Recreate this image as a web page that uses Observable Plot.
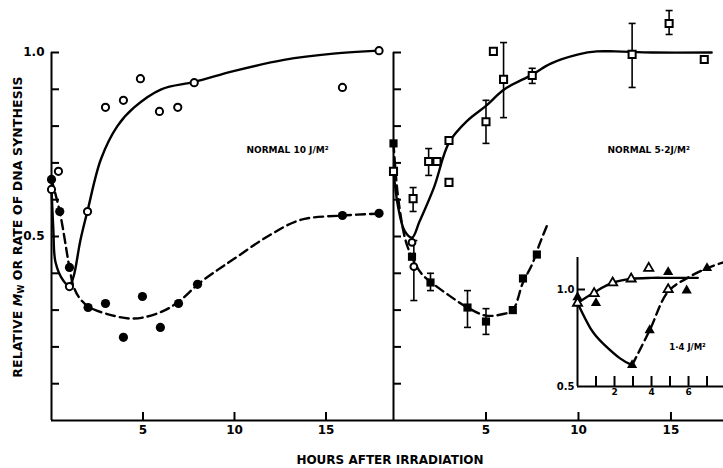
<!DOCTYPE html>
<html>
<head>
<meta charset="utf-8">
<script src="https://cdn.jsdelivr.net/npm/d3@7"></script>
<script src="https://cdn.jsdelivr.net/npm/@observablehq/plot@0.6"></script>
<style>
  html, body { margin: 0; padding: 0; background: #fff; }
  #fig { position: relative; width: 723px; height: 468px; background: #fff; overflow: hidden; font-family: 'DejaVu Sans', sans-serif; color: #000; }
  #fig svg { position: absolute; left: 0; top: 0; }
  .ytitle { position: absolute; left: 18px; top: 227px; transform: translate(-50%, -50%) rotate(-90deg); white-space: nowrap; font-weight: bold; font-size: 12.5px; letter-spacing: 0.1px; }
  .ytitle sub { font-size: 8px; vertical-align: -2px; }
  .xtitle { position: absolute; left: 390px; top: 460px; transform: translate(-50%, -50%); white-space: nowrap; font-weight: bold; font-size: 12px; }
</style>
</head>
<body>
<div id="fig">
  <div class="ytitle">RELATIVE <i>M</i><sub>W</sub> OR RATE OF DNA SYNTHESIS</div>
  <div class="xtitle">HOURS AFTER IRRADIATION</div>
</div>
<script>
// ---------- data (hours, relative value) ----------
// Left panel: NORMAL 10 J/m2
const leftOpen = [[0,0.628],[0.38,0.677],[0.98,0.364],[1.97,0.568],[2.95,0.851],[3.93,0.870],[4.86,0.929],[5.9,0.840],[6.9,0.851],[7.8,0.918],[15.9,0.905],[17.9,1.005]];
const leftFilled = [[0,0.655],[0.45,0.568],[0.98,0.416],[2.0,0.307],[2.95,0.318],[3.93,0.226],[4.97,0.337],[5.95,0.253],[6.94,0.318],[7.98,0.370],[15.9,0.557],[17.9,0.563]];
const leftSolidCurve = [[0,0.63],[0.1,0.52],[0.22,0.43],[0.65,0.38],[0.98,0.367],[1.2,0.39],[1.58,0.49],[1.97,0.57],[2.7,0.71],[3.6,0.80],[4.5,0.85],[6,0.90],[7.8,0.92],[10,0.95],[12.7,0.98],[15.4,0.997],[17.9,1.005]];
const leftDashedCurve = [[0,0.655],[0.45,0.568],[0.98,0.416],[1.2,0.365],[1.5,0.335],[2,0.31],[3,0.29],[4.5,0.277],[6,0.295],[7,0.325],[8,0.37],[9.1,0.41],[10,0.44],[11.8,0.50],[13.6,0.545],[15.9,0.557],[17.9,0.562]];

// Right panel: NORMAL 5.2 J/m2
const rightOpenSquares = [[0,0.677],[1.06,0.603],[1.9,0.704],[2.35,0.704],[3.0,0.761],[3.0,0.647],[5.0,0.812],[5.4,1.003],[5.95,0.927],[7.5,0.9375],[12.9,0.995],[14.9,1.079],[16.8,0.981]];
const rightOpenErr = [[1.06,0.568,0.633],[1.9,0.666,0.739],[5.0,0.753,0.87],[5.95,0.823,1.027],[7.5,0.916,0.957],[12.9,0.905,1.079],[14.9,1.049,1.114]];
const rightOpenCircles = [[1.0,0.484],[1.1,0.418]];
const rightCircleErr = [[1.1,0.326,0.489]];
const rightFilled = [[0,0.753],[1.0,0.445],[2.0,0.375],[4.0,0.307],[5.0,0.269],[6.45,0.30],[7.0,0.386],[7.75,0.451]];
const rightFilledErr = [[2.0,0.353,0.40],[4.0,0.253,0.353],[5.0,0.234,0.304]];
const rightSolidCurve = [[0,0.677],[0.25,0.58],[0.6,0.515],[1.0,0.497],[1.4,0.54],[2.2,0.635],[3,0.755],[4,0.815],[5,0.855],[6,0.90],[7.5,0.94],[8.5,0.97],[10,0.995],[11,1.003],[12,1.003],[14,1.0],[17.2,1.0]];
const rightDashedCurve = [[0,0.753],[0.25,0.606],[0.65,0.49],[1.03,0.44],[1.5,0.40],[2,0.377],[3,0.34],[4,0.307],[5,0.285],[6,0.29],[6.45,0.30],[7,0.375],[7.5,0.425],[7.9,0.48],[8.3,0.53]];

// Inset: 1.4 J/m2
const insetOpen = [[0,0.93],[0.9,0.98],[1.9,1.035],[2.9,1.055],[3.85,1.11],[4.9,1.0]];
const insetFilled = [[0,0.96],[1.0,0.93],[2.95,0.61],[3.9,0.79],[4.9,1.09],[5.9,0.995],[7.0,1.11]];
const insetSolidUp = [[0,0.93],[0.9,0.985],[1.9,1.035],[2.9,1.055],[4,1.06],[5,1.06],[6.5,1.06]];
const insetSolidDown = [[0,0.93],[0.7,0.80],[1.4,0.72],[2.3,0.645],[2.95,0.61]];
const insetDashed = [[2.95,0.61],[3.9,0.79],[4.9,0.99],[5.95,1.06],[7,1.11],[7.9,1.14]];

// ticks and labels
const mainYTicks = [0.1,0.2,0.3,0.4,0.5,0.6,0.7,0.8,0.9,1.0];
const mainYLabels = [0.5, 1.0];
const mainXTicks = [5, 10, 15];
const insetXTicks = [1,2,3,4,5,6,7];
const insetXLabels = [2,4,6];
const insetYTicks = [1.0];
const insetYLabels = [0.5, 1.0];
const panelLabels = [
  {panel: "left", h: 12.9, v: 0.734, text: "NORMAL 10 J/M²"},
  {panel: "right", h: 13.8, v: 0.734, text: "NORMAL 5·2J/M²"},
  {panel: "inset", h: 5.95, v: 0.70, text: "1·4 J/M²"}
];

// ---------- drawing ----------
const FONT = "'DejaVu Sans', sans-serif";
const X = d => d[0], Y = d => d[1];
const capSymbol = {draw(ctx) { ctx.moveTo(-3.5, 0); ctx.lineTo(3.5, 0); }};
const LW = 2.4;
const DASH = "9,5";

function errMarks(err) {
  return [
    Plot.ruleX(err, {x: X, y1: d => d[1], y2: d => d[2], stroke: "black", strokeWidth: 1.6}),
    Plot.dot(err, {x: X, y: d => d[1], symbol: capSymbol, stroke: "black", strokeWidth: 1.6}),
    Plot.dot(err, {x: X, y: d => d[2], symbol: capSymbol, stroke: "black", strokeWidth: 1.6})
  ];
}

function mainAxes(showYLabels) {
  const m = [
    Plot.ruleX([0], {y1: 0, y2: 1, stroke: "black", strokeWidth: 2}),
    Plot.ruleY([0], {stroke: "black", strokeWidth: 2}),
    Plot.axisY(mainYTicks, {tickSize: -8, tickFormat: () => "", strokeWidth: 2, label: null}),
    Plot.axisX(mainXTicks, {tickSize: -8, tickFormat: () => "", strokeWidth: 2, label: null}),
    Plot.axisX(mainXTicks, {tickSize: 0, tickPadding: 5, fontSize: 12, fontWeight: "bold", label: null})
  ];
  if (showYLabels) m.push(Plot.axisY(mainYLabels, {tickSize: 0, tickPadding: 7, tickFormat: ".1f", fontSize: 12, fontWeight: "bold", label: null}));
  return m;
}

const common = {width: 723, height: 468, style: {background: "transparent", overflow: "visible", fontFamily: FONT, color: "black"}};

const leftPlot = Plot.plot({
  ...common,
  marginLeft: 51, marginRight: 330, marginTop: 52, marginBottom: 48,
  x: {domain: [0, 18.69]},
  y: {domain: [0, 1]},
  marks: [
    ...mainAxes(true),
    Plot.line(leftSolidCurve, {x: X, y: Y, curve: "catmull-rom", stroke: "black", strokeWidth: LW}),
    Plot.line(leftDashedCurve, {x: X, y: Y, curve: "catmull-rom", stroke: "black", strokeWidth: LW, strokeDasharray: DASH}),
    Plot.dot(leftFilled, {x: X, y: Y, r: 4.6, fill: "black", stroke: "none"}),
    Plot.dot(leftOpen, {x: X, y: Y, r: 3.6, fill: "white", stroke: "black", strokeWidth: 2}),
    Plot.text(panelLabels.filter(d => d.panel === "left"), {x: "h", y: "v", text: "text", fontSize: 9, fontWeight: "bold"})
  ]
});

const rightPlot = Plot.plot({
  ...common,
  marginLeft: 393, marginRight: 0, marginTop: 52, marginBottom: 48,
  x: {domain: [0, 17.84]},
  y: {domain: [0, 1]},
  marks: [
    ...mainAxes(false),
    Plot.line(rightSolidCurve, {x: X, y: Y, curve: "catmull-rom", stroke: "black", strokeWidth: LW}),
    Plot.line(rightDashedCurve, {x: X, y: Y, curve: "catmull-rom", stroke: "black", strokeWidth: LW, strokeDasharray: DASH}),
    ...errMarks(rightOpenErr),
    ...errMarks(rightFilledErr),
    ...errMarks(rightCircleErr),
    Plot.dot(rightFilled, {x: X, y: Y, r: 4.6, symbol: "square", fill: "black", stroke: "none"}),
    Plot.dot(rightOpenSquares, {x: X, y: Y, r: 4, symbol: "square", fill: "white", stroke: "black", strokeWidth: 2}),
    Plot.dot(rightOpenCircles, {x: X, y: Y, r: 3.4, fill: "white", stroke: "black", strokeWidth: 2}),
    Plot.text(panelLabels.filter(d => d.panel === "right"), {x: "h", y: "v", text: "text", fontSize: 9, fontWeight: "bold"})
  ]
});

const insetPlot = Plot.plot({
  ...common,
  marginLeft: 577, marginRight: 0, marginTop: 257, marginBottom: 82,
  x: {domain: [0, 7.89]},
  y: {domain: [0.5, 1.165]},
  marks: [
    Plot.ruleX([0], {y1: 0.5, y2: 1.165, stroke: "black", strokeWidth: 2}),
    Plot.ruleY([0.5], {stroke: "black", strokeWidth: 2}),
    Plot.axisY(insetYTicks, {tickSize: -8, tickFormat: () => "", strokeWidth: 2, label: null}),
    Plot.axisY(insetYLabels, {tickSize: 0, tickPadding: 3, tickFormat: ".1f", fontSize: 10, fontWeight: "bold", label: null}),
    Plot.axisX(insetXTicks, {tickSize: -10, tickFormat: () => "", strokeWidth: 2, label: null}),
    Plot.axisX(insetXLabels, {tickSize: 0, tickPadding: 2, fontSize: 9, fontWeight: "bold", label: null}),
    Plot.line(insetSolidUp, {x: X, y: Y, curve: "catmull-rom", stroke: "black", strokeWidth: LW}),
    Plot.line(insetSolidDown, {x: X, y: Y, curve: "natural", stroke: "black", strokeWidth: LW}),
    Plot.line(insetDashed, {x: X, y: Y, curve: "catmull-rom", stroke: "black", strokeWidth: LW, strokeDasharray: DASH}),
    Plot.dot(insetFilled, {x: X, y: Y, r: 3.8, symbol: "triangle", fill: "black", stroke: "none"}),
    Plot.dot(insetOpen, {x: X, y: Y, r: 3.4, symbol: "triangle", fill: "white", stroke: "black", strokeWidth: 1.8}),
    Plot.text(panelLabels.filter(d => d.panel === "inset"), {x: "h", y: "v", text: "text", fontSize: 8.5, fontWeight: "bold"})
  ]
});

const fig = document.getElementById("fig");
fig.appendChild(leftPlot);
fig.appendChild(rightPlot);
fig.appendChild(insetPlot);
</script>
</body>
</html>
